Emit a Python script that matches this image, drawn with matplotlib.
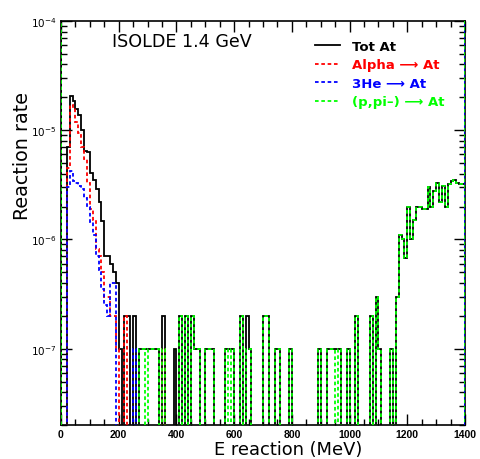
import numpy as np
import matplotlib
matplotlib.use("Agg")
import matplotlib.pyplot as plt
from matplotlib.lines import Line2D
from matplotlib.ticker import MultipleLocator, LogLocator, NullFormatter

plt.rcParams['mathtext.fontset'] = 'custom'
plt.rcParams['mathtext.bf'] = 'Liberation Sans:bold'
plt.rcParams['mathtext.rm'] = 'Liberation Sans:bold'
plt.rcParams['mathtext.default'] = 'bf'

# 140 bins of 10 MeV, 0..1400 MeV ; contents in units of 1e-7
unit = 1e-7
e_edges = np.arange(0, 1401, 10)

tot_at = [
    0, 0, 70, 205, 185, 155, 138, 100, 65, 63,        # 0-100
    41, 35, 29, 22, 14.7, 7, 7, 6, 5, 4,             # 100-200
    1, 0, 2, 2, 0, 2, 0, 1, 1, 1,                    # 200-300
    1, 1, 1, 1, 0, 2, 0, 0, 0, 1,                    # 300-400
    0, 2, 0, 2, 0, 2, 1, 1, 0, 0,                    # 400-500
    1, 1, 1, 0, 0, 0, 0, 1, 1, 1,                    # 500-600
    0, 0, 2, 0, 2, 1, 0, 0, 0, 0,                    # 600-700
    2, 2, 0, 0, 1, 1, 0, 0, 0, 1,                    # 700-800
    0, 0, 0, 0, 0, 0, 0, 0, 0, 1,                    # 800-900
    0, 0, 1, 1, 1, 1, 1, 0, 0, 1,                    # 900-1000
    0, 0, 2, 0, 0, 0, 0, 2, 0, 3,                    # 1000-1100
    1, 0, 0, 0, 1, 0, 3, 11, 10, 6.8,                # 1100-1200
    20, 10, 15, 20, 20, 19, 19, 30, 20, 28,          # 1200-1300
    33, 22, 31, 20, 32, 34, 35, 33, 32, 32,          # 1300-1400
]

alpha_at = [
    0, 0, 45, 170, 160, 120, 95, 70, 55, 33,
    19, 15, 8.1, 7, 5, 3, 3, 2, 2, 1,
    0, 0, 2, 0, 0, 0, 0, 0, 0, 0,
    0, 0, 0, 0, 0, 1, 0, 0, 0, 0,
] + [0] * 100

he3_at = [
    0, 0, 30, 42, 34, 33, 31, 29, 24, 20,
    14.3, 11, 7, 5.3, 3.5, 2.5, 2, 4, 4, 0,
    0, 0, 0, 0, 0, 1, 0, 0, 0, 0,
] + [0] * 110

ppi_at = [0] * 27 + [
    1, 1, 0, 1, 1, 1, 1, 0, 1, 0, 0, 0, 0,           # 270-400
    0, 2, 0, 2, 0, 2, 1, 1, 0, 0,                    # 400-500
    1, 1, 1, 0, 0, 0, 0, 1, 0, 1,                    # 500-600
    0, 0, 2, 0, 1, 1, 0, 0, 0, 0,                    # 600-700
    2, 2, 0, 0, 1, 1, 0, 0, 0, 1,
    0, 0, 0, 0, 0, 0, 0, 0, 0, 1,
    0, 0, 1, 1, 1, 0, 1, 0, 0, 1,
    0, 0, 2, 0, 0, 0, 0, 2, 0, 3,
    1, 0, 0, 0, 1, 0, 3, 11, 10, 6.8,
    20, 10, 15, 20, 20, 19, 19, 30, 20, 28,
    33, 22, 31, 20, 32, 34, 35, 33, 32, 32,
]

fig = plt.figure(figsize=(4.81, 4.60), dpi=100)
ax = fig.add_axes([0.1268, 0.0739, 0.84, 0.8783])


def draw(vals, **kw):
    v = np.array(vals, dtype=float) * unit
    v = np.where(v > 0, v, 1e-12)
    ax.stairs(v, e_edges, baseline=None, **kw)


dash = (0, (2.0, 1.5))
draw(tot_at, color='black', lw=1.3, zorder=2)
draw(alpha_at, color='#ff0000', lw=1.3, ls=dash, zorder=3)
draw(he3_at, color='#0000ff', lw=1.3, ls=dash, zorder=4)
draw(ppi_at, color='#00ff00', lw=1.3, ls=dash, zorder=5)

# histogram frame edges drawn over full height
ax.axvline(0, color='black', lw=1.3, zorder=2)
ax.axvline(0, color='#00ff00', lw=1.3, ls=dash, zorder=5)
ax.axvline(1400, color='#0000ff', lw=1.3, ls=dash, zorder=4)
ax.axvline(1400, color='#00ff00', lw=1.3, ls=(2, (2.0, 1.5)), zorder=5)

ax.set_yscale('log')
ax.set_xlim(0, 1400)
ax.set_ylim(2e-8, 1e-4)

ax.xaxis.set_major_locator(MultipleLocator(200))
ax.xaxis.set_minor_locator(MultipleLocator(50))
ax.yaxis.set_major_locator(LogLocator(base=10, numticks=10))
ax.yaxis.set_minor_locator(LogLocator(base=10, subs=np.arange(2, 10), numticks=10))
ax.yaxis.set_minor_formatter(NullFormatter())
ax.tick_params(which='both', direction='in', top=True, right=True, width=1.0)
ax.tick_params(which='major', length=8)
ax.tick_params(which='minor', length=4)
for lab in ax.get_xticklabels():
    lab.set_fontfamily('Liberation Sans')
    lab.set_fontweight('bold')
ax.tick_params(axis='both', labelsize=7.5, pad=3)
for sp in ax.spines.values():
    sp.set_linewidth(1.2)

fig.text(0.233, 0.909, 'ISOLDE 1.4 GeV', fontsize=12.6, family='DejaVu Sans',
         ha='left', va='center')
fig.text(0.599, 0.022, 'E reaction (MeV)', fontsize=12.9, family='DejaVu Sans',
         ha='center', va='center')
fig.text(0.046, 0.66, 'Reaction rate', fontsize=13.8, family='DejaVu Sans',
         ha='center', va='center', rotation=90)

handles = [
    Line2D([], [], color='black', lw=1.3),
    Line2D([], [], color='#ff0000', lw=1.3, ls=dash),
    Line2D([], [], color='#0000ff', lw=1.3, ls=dash),
    Line2D([], [], color='#00ff00', lw=1.3, ls=dash),
]
labels = ['Tot At', 'Alpha \u27f6 At', '3He \u27f6 At', '(p,pi\u2013) \u27f6 At']
leg = ax.legend(handles, labels, loc='upper left', bbox_to_anchor=(0.63, 0.937),
                bbox_transform=fig.transFigure, frameon=False,
                prop={'family': 'DejaVu Sans', 'weight': 'bold', 'size': 9.5},
                handlelength=1.9, handletextpad=0.9, labelspacing=0.42,
                labelcolor=['black', '#ff0000', '#0000ff', '#00ff00'])

fig.savefig('out.png', dpi=100)
